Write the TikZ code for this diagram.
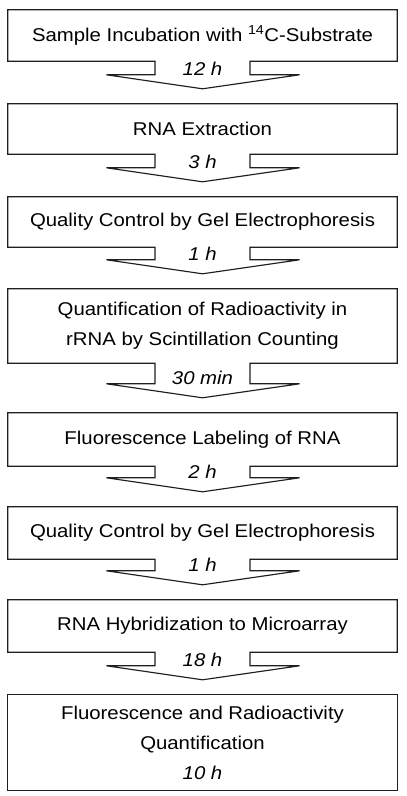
\documentclass[tikz,border=0pt]{standalone}
\usepackage{fontspec}
\setmainfont{Liberation Sans}[FakeStretch=1.1]
\usetikzlibrary{calc}
\begin{document}
\begin{tikzpicture}[x=1pt,y=1pt,
  stepbox/.style={minimum width=389pt, inner sep=0pt,
    align=center, font=\fontsize{18.5}{30}\selectfont},
  flow/.style={draw=black!88, line width=1.15pt, line join=miter},
  timelabel/.style={font=\fontsize{18.5}{20}\selectfont\itshape, inner sep=0pt}]
\useasboundingbox (0,0) rectangle (407,-796);
\node[stepbox, minimum height=51pt] (b1) at (202.5,-35.5) {Sample Incubation with \textsuperscript{14}C-Substrate};
\node[stepbox, minimum height=50pt] (b2) at (202.5,-129) {RNA Extraction};
\node[stepbox, minimum height=50pt] (b3) at (202.5,-222) {Quality Control by Gel Electrophoresis};
\node[stepbox, minimum height=74pt] (b4) at (202.5,-326) {Quantification of Radioactivity in\\rRNA by Scintillation Counting};
\node[stepbox, minimum height=53pt] (b5) at (202.5,-439.5) {Fluorescence Labeling of RNA};
\node[stepbox, minimum height=52pt] (b6) at (202.5,-533) {Quality Control by Gel Electrophoresis};
\node[stepbox, minimum height=52pt] (b7) at (202.5,-626) {RNA Hybridization to Microarray};
\node[stepbox, minimum height=95pt] (b8) at (202.5,-742.5) {Fluorescence and Radioactivity\\Quantification\\\textit{10 h}};
\draw[flow] (b8.south west) rectangle (b8.north east);
\foreach \a/\b/\t in {b1/b2/12 h, b2/b3/3 h, b3/b4/1 h, b4/b5/30 min, b5/b6/2 h, b6/b7/1 h, b7/b8/18 h} {
  \coordinate (tip) at ($(\b.north)+(0,15)$);
  \draw[flow] ($(\a.south)+(47.5,0)$) -- (\a.south east) -- (\a.north east) -- (\a.north west)
     -- (\a.south west) -- ($(\a.south)+(-47.5,0)$) |- ($(tip)+(-96,14)$) -- (tip)
     -- ($(tip)+(97,14)$) -| ($(\a.south)+(47.5,0)$) -- cycle;
  \node[timelabel] at ($(tip)+(0,20)$) {\t};
}
\end{tikzpicture}
\end{document}
